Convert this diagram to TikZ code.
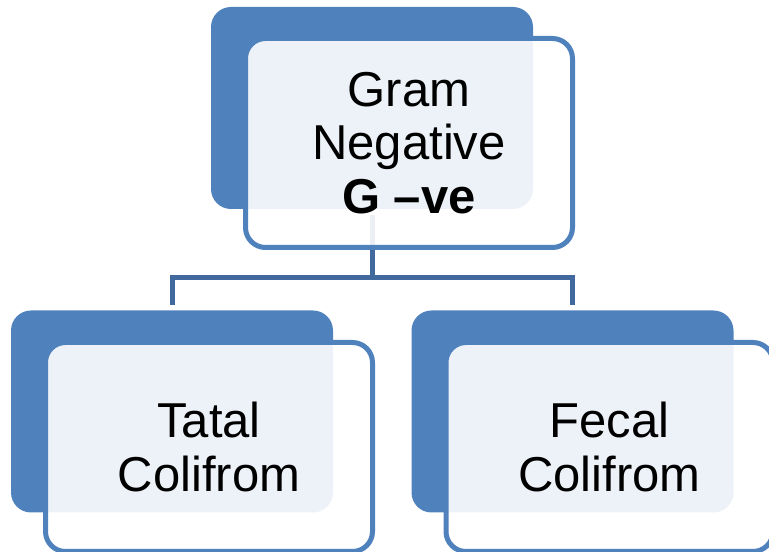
\documentclass[tikz,border=0pt]{standalone}
\usepackage{fontspec}
\setmainfont{Liberation Sans}
\usepackage{tikz}

\definecolor{boxblue}{HTML}{4F81BD}
\definecolor{linkblue}{HTML}{41699E}

\tikzset{
  backbox/.style={rectangle, rounded corners=15pt, fill=boxblue, inner sep=0pt,
    minimum width=241.5pt, minimum height=151.5pt},
  frontbox/.style={rectangle, rounded corners=15pt, draw=boxblue, line width=3.75pt,
    fill=white, fill opacity=0.9, text opacity=1, inner sep=0pt, align=center,
    minimum width=245.25pt, minimum height=156.75pt,
    font=\fontsize{36.75}{40}\selectfont},
  link/.style={draw=linkblue, line width=3.75pt, shorten <=4pt, shorten >=4pt}
}

\begin{document}
\begin{tikzpicture}[x=0.75pt, y=-0.75pt]
	\useasboundingbox (0,0) rectangle (769,552);
	% back plates
	\node[backbox] (GB) at (372, 108) {};
	\node[backbox] (TB) at (172, 411.5) {};
	\node[backbox] (FB) at (572.5, 411.5) {};
	% tree lines
	\draw[link] (GB.south) -- ++(0,68) -| (TB.north);
	\draw[link] (GB.south) -- ++(0,68) -| (FB.north);
	% front cards
	\node[frontbox] (GF) at (409, 143) {Gram\\Negative\\\textbf{G –ve}};
	\node[frontbox] (TF) at (209, 447) {Tatal\\Colifrom};
	\node[frontbox] (FF) at (609.5, 447) {Fecal\\Colifrom};
\end{tikzpicture}
\end{document}
